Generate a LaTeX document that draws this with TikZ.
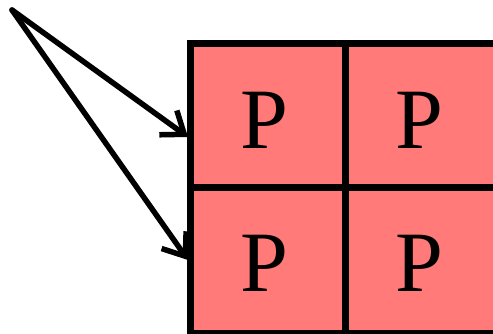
\documentclass[tikz,border=0pt]{standalone}
\usepackage{fontspec}
\setmainfont{Liberation Serif}
\usetikzlibrary{arrows.meta}
\definecolor{salmon}{RGB}{255,122,120}
\tikzset{
  cell/.style={draw=black, fill=salmon, line width=6.5pt, minimum width=155pt, anchor=north west, inner sep=0pt},
  letter/.style={anchor=base, inner sep=0pt, font=\fontsize{86pt}{86pt}\selectfont},
  arr/.style={line width=5.5pt, line cap=round, -{Straight Barb[length=20pt, width=30pt, line width=5.5pt]}}
}
\begin{document}
\begin{tikzpicture}[x=1pt, y=-1pt]
\useasboundingbox (0,0) rectangle (493,333);
\node[cell, minimum height=144pt] (c11) at (187,40) {};
\node[cell, minimum height=146pt] (c21) at (187,184) {};
\node[cell, minimum height=144pt] (c12) at (342,40) {};
\node[cell, minimum height=146pt] (c22) at (342,184) {};
\node[letter] (p11) at (264,148) {P};
\node[letter] (p12) at (419,148) {P};
\node[letter] (p21) at (264,291) {P};
\node[letter] (p22) at (419,291) {P};
\coordinate (s) at (12,10);
\coordinate (t1) at (188,137);
\coordinate (t2) at (188,260);
\draw[arr] (s) -- (t1);
\draw[arr] (s) -- (t2);
\end{tikzpicture}
\end{document}
